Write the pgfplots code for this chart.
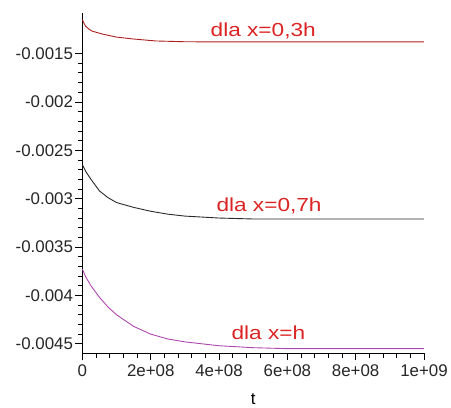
\documentclass[border=0pt]{standalone}
\usepackage{pgfplots}
\pgfplotsset{compat=1.18}
\usepackage{fontspec}
\setmainfont{Liberation Sans}
\newfontfamily\wide[FakeStretch=1.2]{Liberation Sans}
\definecolor{lblred}{RGB}{220,35,35}
\definecolor{curvered}{RGB}{175,30,30}
\definecolor{curvemag}{RGB}{175,70,175}
\definecolor{curveblk}{RGB}{40,40,40}
\begin{document}
\begin{tikzpicture}
\begin{axis}[
  scale only axis,
  width=344pt, height=343pt,
  axis lines=left,
  axis line style={-, line width=0.8pt},
  xmin=0, xmax=1e9,
  ymin=-0.0046, ymax=-0.00108,
  scaled ticks=false,
  xtick={0,2e8,4e8,6e8,8e8,1e9},
  xticklabels={0,2e+08,4e+08,6e+08,8e+08,1e+09},
  ytick={-0.0045,-0.004,-0.0035,-0.003,-0.0025,-0.002,-0.0015},
  yticklabels={-0.0045,-0.004,-0.0035,-0.003,-0.0025,-0.002,-0.0015},
  minor tick num=4,
  tick align=outside,
  major tick length=7pt,
  minor tick length=4.5pt,
  tick style={line width=0.8pt, black},
  ticklabel style={font=\fontsize{17}{19}\selectfont, text=black!85},
  xticklabel style={yshift=-1pt},
  yticklabel style={xshift=1pt},
  xlabel={t},
  xlabel style={font=\fontsize{17}{19}\selectfont, yshift=-10pt},
  clip=false,
]
\addplot[curvered, line width=0.9pt] coordinates {
(0,-0.00115) (5e6,-0.00119) (1e7,-0.00122) (2e7,-0.00125) (3e7,-0.00127)
(6e7,-0.00130) (1e8,-0.00133) (1.5e8,-0.00135) (2.15e8,-0.00137)
(3e8,-0.001378) (4e8,-0.00138) (6e8,-0.00138) (8e8,-0.00138) (1e9,-0.00138)};
\addplot[curveblk, line width=0.9pt] coordinates {
(0,-0.00265) (1e7,-0.00272) (2.5e7,-0.00280) (5e7,-0.00292) (7.5e7,-0.00299)
(1e8,-0.00304) (1.5e8,-0.00309) (2e8,-0.00313) (2.5e8,-0.00316)
(3e8,-0.00318) (4e8,-0.00320) (5e8,-0.00321) (7e8,-0.00321) (1e9,-0.00321)};
\addplot[curvemag, line width=0.9pt] coordinates {
(0,-0.00373) (1e7,-0.00381) (2.5e7,-0.00390) (5e7,-0.00402) (7.5e7,-0.00412)
(1e8,-0.00420) (1.5e8,-0.00432) (2e8,-0.00440) (2.5e8,-0.00445)
(3e8,-0.00448) (4e8,-0.00452) (5e8,-0.00454) (6e8,-0.00455) (8e8,-0.00455) (1e9,-0.00455)};
\node[anchor=base west, inner sep=0pt, text=lblred, font=\wide\fontsize{19}{21}\selectfont] at (axis cs:3.75e8,-0.001325) {dla x=0,3h};
\node[anchor=base west, inner sep=0pt, text=lblred, font=\wide\fontsize{19}{21}\selectfont] at (axis cs:3.92e8,-0.003134) {dla x=0,7h};
\node[anchor=base west, inner sep=0pt, text=lblred, font=\wide\fontsize{19}{21}\selectfont] at (axis cs:4.36e8,-0.004459) {dla x=h};
\end{axis}
\path ([xshift=-83pt,yshift=13pt]current axis.north west) rectangle ([xshift=24pt,yshift=-52pt]current axis.south east);
\end{tikzpicture}
\end{document}
